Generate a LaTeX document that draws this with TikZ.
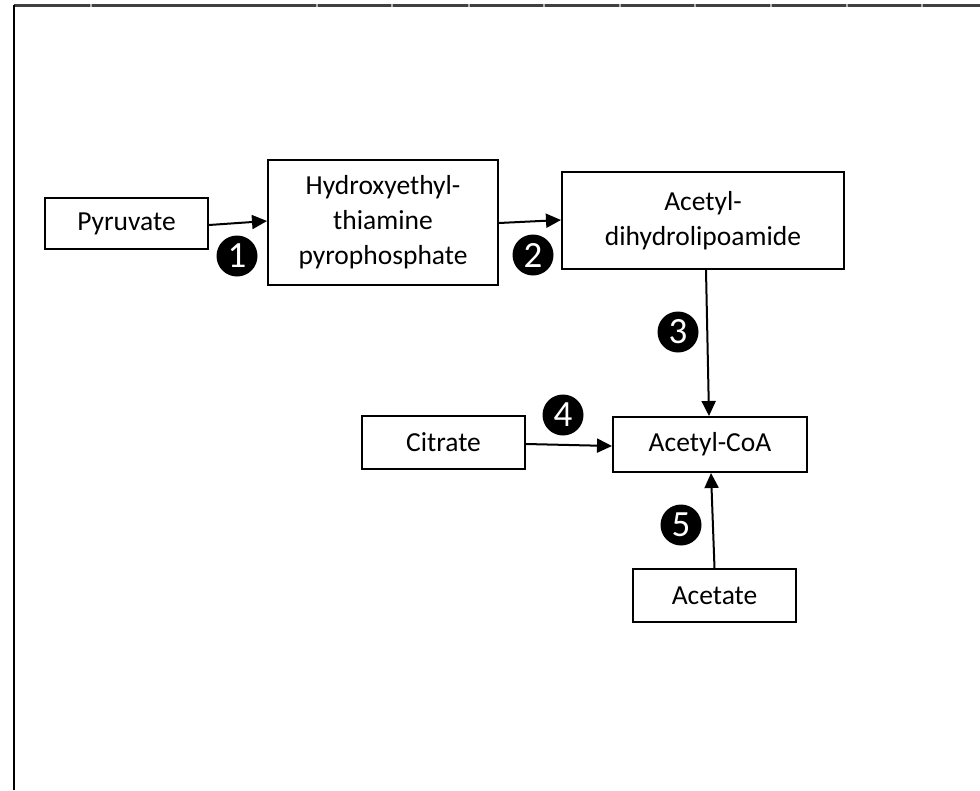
\documentclass[tikz,border=0pt]{standalone}
\usepackage{fontspec}
\setmainfont{Carlito}
\usetikzlibrary{arrows.meta}
\begin{document}
\begin{tikzpicture}[x=1pt,y=-1pt,
  box/.style={draw=black, line width=2pt, inner sep=0pt, align=center,
    font=\fontsize{27.5}{35}\selectfont},
  conn/.style={line width=2pt, -{Triangle[length=15pt,width=14pt]}},
  num/.style={circle, fill=black, minimum size=41pt, inner sep=0pt, text=white,
    font=\fontsize{37}{37}\selectfont},
  frameline/.style={line width=2.2pt},
  tick/.style={draw=gray!60, line width=2.2pt}]
\useasboundingbox (0,0) rectangle (980,790);
% frame
\draw[frameline, draw=black!75] (14,5.5) -- (980,5.5);
\foreach \t in {91,317,392,469,544,620,695,771,847,922}
  \draw[tick] (\t-1,5.5) -- (\t+1,5.5);
\draw[frameline, draw=black] (14,4.5) -- (14,790);
% boxes
\node[box, minimum width=163pt, minimum height=51pt] (pyr) at (126.5,223.5) {Pyruvate};
\node[box, minimum width=230pt, minimum height=125pt] (htpp) at (383,222.5) {Hydroxyethyl-\\thiamine\\pyrophosphate};
\node[box, minimum width=282pt, minimum height=97pt] (adl) at (703,220.5) {Acetyl-\\dihydrolipoamide};
\node[box, minimum width=194pt, minimum height=55pt] (acoa) at (710,444.5) {Acetyl-CoA};
\node[box, minimum width=163pt, minimum height=53pt] (cit) at (443.5,442.5) {Citrate};
\node[box, minimum width=163pt, minimum height=53pt] (ace) at (714.5,595.5) {Acetate};
% connectors
\draw[conn] ([yshift=-1.5pt]pyr.east) -- ([yshift=1.5pt]htpp.west);
\draw[conn] ([yshift=-0.5pt]htpp.east) -- ([yshift=0.5pt]adl.west);
\draw[conn] ([xshift=3pt]adl.south) -- ([xshift=-1pt]acoa.north);
\draw[conn] ([yshift=-1.5pt]cit.east) -- ([yshift=-1.5pt]acoa.west);
\draw[conn] (ace.north) -- ([xshift=1pt]acoa.south);
% step numbers
\node[num] (n1) at (237,256) {1};
\node[num] (n2) at (533,255) {2};
\node[num] (n3) at (678,332) {3};
\node[num] (n4) at (563,415) {4};
\node[num] (n5) at (681,525) {5};
\end{tikzpicture}
\end{document}
